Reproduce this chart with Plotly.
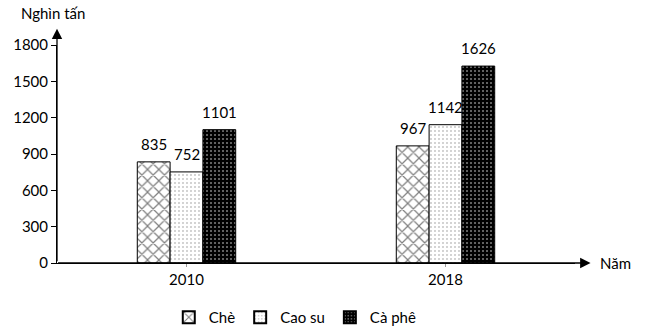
import plotly.graph_objects as go

# Sản lượng một số cây công nghiệp (nghìn tấn)
years = ["2010", "2018"]
che = [835, 967]
cao_su = [752, 1142]
ca_phe = [1101, 1626]
y_ticks = [0, 300, 600, 900, 1200, 1500, 1800]

FONT = "Lato"
BARGAP = 0.62
PLOT_W = 646 - 57 - 71

series = [
    ("Chè", che, dict(color="white", line=dict(color="black", width=1),
                      pattern=dict(shape="x", size=8, solidity=0.28,
                                   fgcolor="black", bgcolor="white"))),
    ("Cao su", cao_su, dict(color="white", line=dict(color="black", width=1),
                            pattern=dict(shape=".", size=4, solidity=0.08,
                                         fgcolor="black", bgcolor="white"))),
    ("Cà phê", ca_phe, dict(color="black", line=dict(color="black", width=1),
                            pattern=dict(shape=".", size=4, solidity=0.2,
                                         fgcolor="white", bgcolor="black"))),
]

fig = go.Figure()
for name, vals, marker in series:
    fig.add_trace(go.Bar(name=name, x=years, y=vals, marker=marker))

# Value labels above each bar, shifted to the bar's slot within the group
# (category axes place annotations by category index)
bar_px = PLOT_W / len(years) * (1 - BARGAP) / len(series)
for i, (name, vals, _) in enumerate(series):
    dx = (i - (len(series) - 1) / 2) * bar_px
    for j, v in enumerate(vals):
        fig.add_annotation(x=j, y=v, text=str(v), showarrow=False,
                           xshift=dx, yshift=18, yanchor="middle",
                           font=dict(family=FONT, size=15, color="black"))

fig.update_layout(
    width=646, height=330,
    margin=dict(l=57, r=71, t=45, b=67, autoexpand=False),
    paper_bgcolor="white", plot_bgcolor="white",
    barmode="group", bargap=BARGAP, bargroupgap=0,
    font=dict(family=FONT, size=15, color="black"),
    showlegend=True,
    legend=dict(orientation="h", x=0.46, xanchor="center", y=-0.25,
                yanchor="middle", font=dict(family=FONT, size=15),
                itemwidth=30, tracegroupgap=0, itemsizing="constant"),
    xaxis=dict(type="category", range=[-0.5, 1.5], showline=True,
               linecolor="black", linewidth=1, showgrid=False,
               ticks="outside", ticklen=3, tickcolor="#999999",
               tickfont=dict(family=FONT, size=15)),
    yaxis=dict(range=[0, 1800], tickvals=y_ticks, showline=True,
               linecolor="black", linewidth=1, showgrid=False,
               ticks="outside", ticklen=5, tickcolor="black",
               zeroline=False, tickfont=dict(family=FONT, size=15)),
)

# Axis arrows
fig.add_annotation(xref="paper", yref="paper", x=0, y=1.075, text="",
                   showarrow=True, axref="pixel", ayref="pixel", ax=0, ay=234,
                   arrowhead=2, arrowsize=1.6, arrowwidth=1.3, arrowcolor="black",
                   standoff=0, startstandoff=0)
fig.add_annotation(xref="paper", yref="paper", x=1.03, y=0, text="",
                   showarrow=True, axref="pixel", ayref="pixel", ax=-534, ay=0,
                   arrowhead=2, arrowsize=1.6, arrowwidth=1.3, arrowcolor="black",
                   standoff=0, startstandoff=0)

# Axis titles
fig.add_annotation(xref="paper", yref="paper", x=-0.008, y=1.147,
                   xanchor="center", yanchor="middle", text="Nghìn tấn",
                   showarrow=False, font=dict(family=FONT, size=15))
fig.add_annotation(xref="paper", yref="paper", x=1.045, y=0,
                   xanchor="left", yanchor="middle", text="Năm",
                   showarrow=False, font=dict(family=FONT, size=15))

fig.write_html("out.html")
